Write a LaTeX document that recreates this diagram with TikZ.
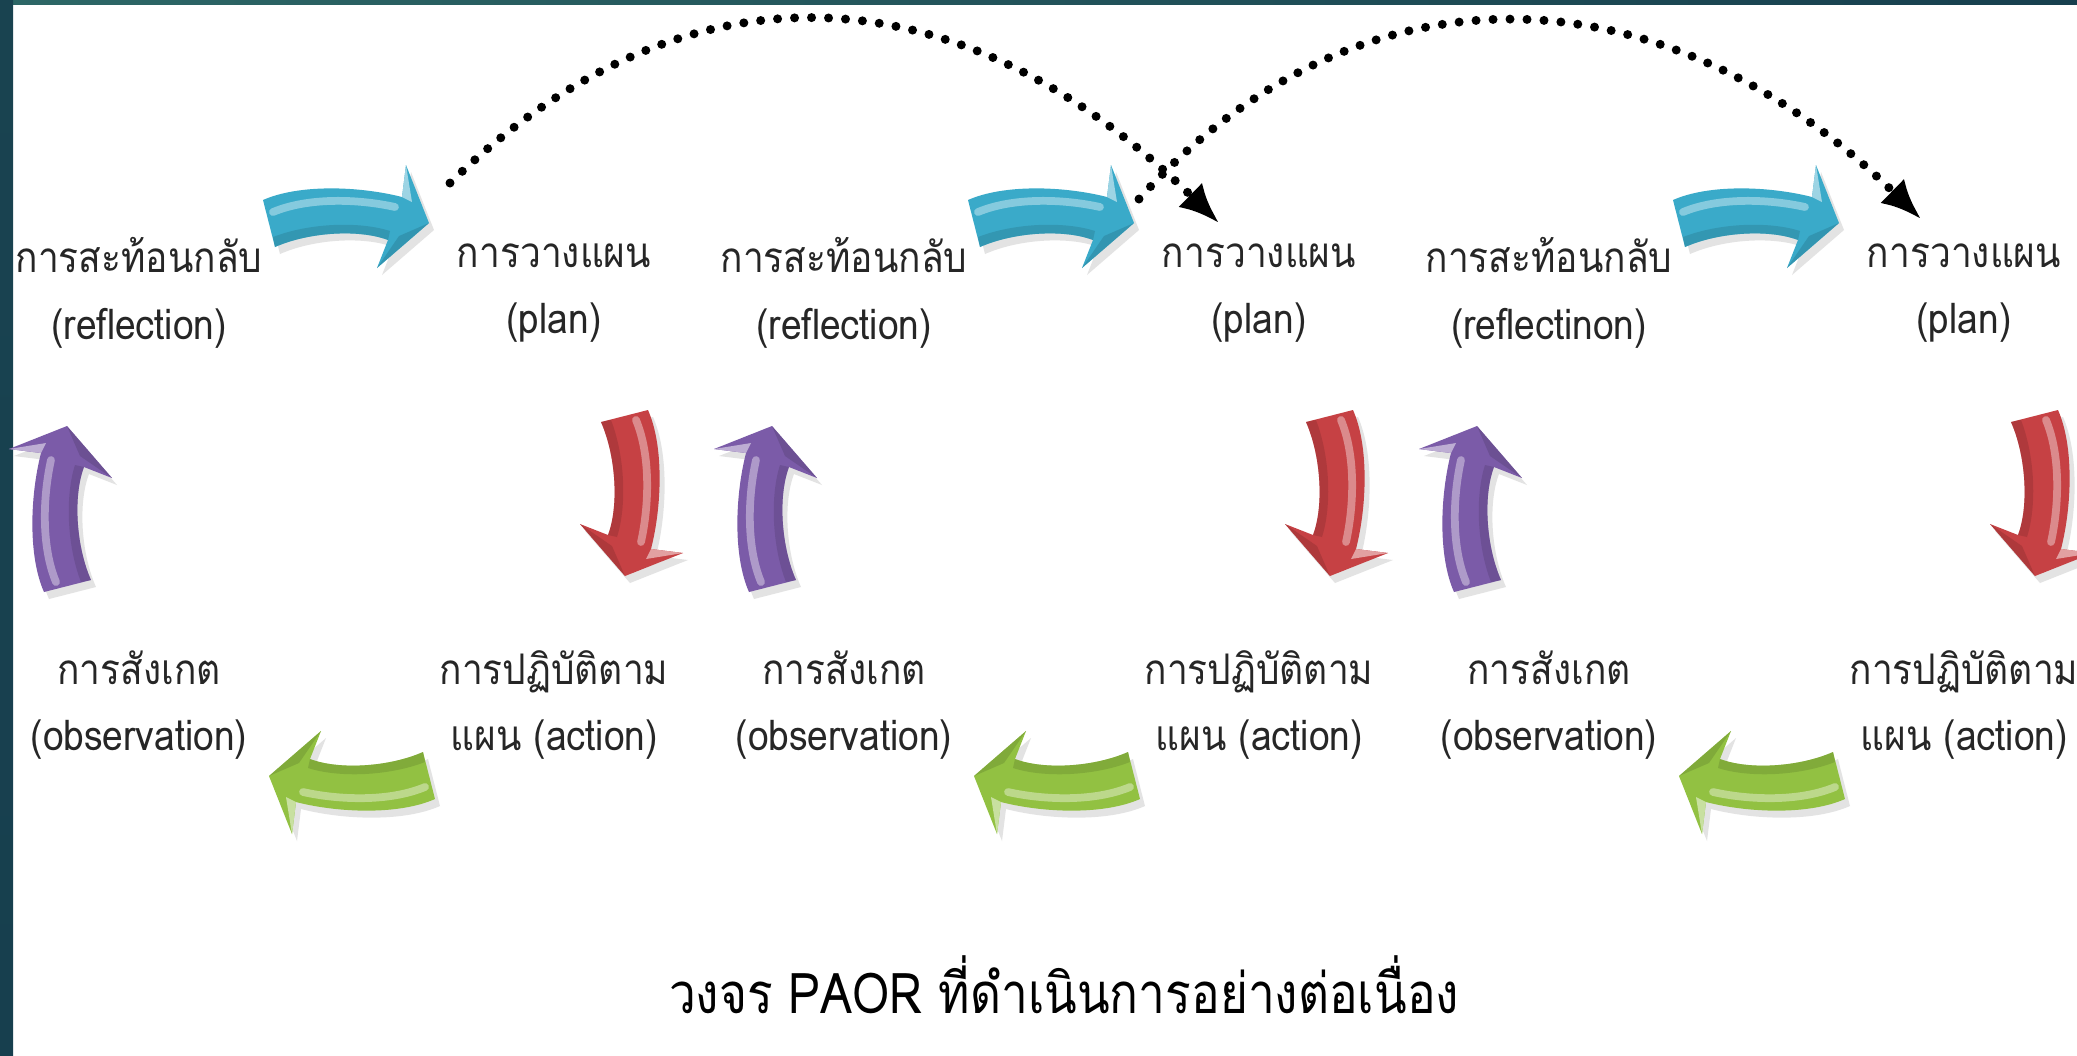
\documentclass[tikz,border=0pt]{standalone}
\usepackage{fontspec}
\usepackage{tikz}
\usetikzlibrary{arrows.meta,shadows}
\newfontfamily\thaifont[Script=Thai,FakeStretch=0.88]{Loma}
\newfontfamily\thaititle[Script=Thai,FakeStretch=0.85]{Loma}

\definecolor{framedark}{HTML}{173F4E}
\definecolor{framelight}{HTML}{2D6766}
\definecolor{arrblue}{HTML}{3AAAC9}
\definecolor{arrred}{HTML}{C64144}
\definecolor{arrgreen}{HTML}{92C142}
\definecolor{arrpurple}{HTML}{7B5BA8}
\definecolor{labelink}{HTML}{262626}

\tikzset{
	lbl/.style={align=center, text=labelink, font=\thaifont\fontsize{12}{19}\selectfont},
	ttl/.style={text=black, font=\thaititle\fontsize{16}{20}\selectfont},
	jump/.style={line width=0.09cm, line cap=round, dash pattern=on 0pt off 0.17cm,
		-{Latex[length=0.4cm,width=0.34cm]}},
	pics/fatarrow/.style={code={
		\fill[#1, drop shadow={opacity=0.22, shadow xshift=0.05cm, shadow yshift=-0.07cm}]
			(-0.06,0.24) .. controls (0.3,0.4) and (0.9,0.38) .. (1.33,0.27) -- (1.37,0.59)
			-- (1.60,0.01) -- (1.08,-0.44) -- (1.19,-0.16)
			.. controls (0.9,-0.05) and (0.4,-0.08) .. (0.06,-0.23) -- cycle;
		\fill[#1!75!black, opacity=0.45]
			(0.06,-0.23) .. controls (0.4,-0.08) and (0.9,-0.05) .. (1.19,-0.16)
			-- (1.21,-0.07) .. controls (0.9,0.03) and (0.4,0.01) .. (0.04,-0.13) -- cycle;
		\draw[#1!45!white, line width=2.2pt, line cap=round, opacity=0.7]
			(0.04,0.12) .. controls (0.4,0.27) and (0.9,0.25) .. (1.26,0.17);
		\fill[#1!50!white] (1.33,0.27) -- (1.37,0.59) -- (1.43,0.22) -- cycle;
		\fill[#1!80!black, opacity=0.6] (1.08,-0.44) -- (1.60,0.01) -- (1.30,-0.12) -- cycle;
	}}
}

\begin{document}
\begin{tikzpicture}
	\useasboundingbox (0,0) rectangle (20.77,-10.55);
	\clip (0,0) rectangle (20.77,-10.55);
	\fill[white] (0,0) rectangle (20.77,-10.55);
	\shade[left color=framelight, right color=framedark] (0,0) rectangle (20.77,-0.045);
	\shade[top color=framedark!90!framelight, bottom color=framedark] (0,0) rectangle (0.13,-10.55);

	\node[lbl] (refl1) at (1.39, -2.93)  {การสะท้อนกลับ\\(reflection)};
	\node[lbl] (plan1) at (5.54, -2.93)  {การวางแผน\\(plan)};
	\node[lbl] (act1)  at (5.54, -7.05)  {การปฏิบัติตาม\\แผน (action)};
	\node[lbl] (obs1)  at (1.39, -7.05)  {การสังเกต\\(observation)};

	\node[lbl] (refl2) at (8.44, -2.93)  {การสะท้อนกลับ\\(reflection)};
	\node[lbl] (plan2) at (12.59, -2.93) {การวางแผน\\(plan)};
	\node[lbl] (act2)  at (12.59, -7.05) {การปฏิบัติตาม\\แผน (action)};
	\node[lbl] (obs2)  at (8.44, -7.05)  {การสังเกต\\(observation)};

	\node[lbl] (refl3) at (15.49, -2.93) {การสะท้อนกลับ\\(reflectinon)};
	\node[lbl] (plan3) at (19.64, -2.93) {การวางแผน\\(plan)};
	\node[lbl] (act3)  at (19.64, -7.05) {การปฏิบัติตาม\\แผน (action)};
	\node[lbl] (obs3)  at (15.49, -7.05) {การสังเกต\\(observation)};

	\node[ttl] (title) at (10.64, -9.85) {วงจร PAOR ที่ดำเนินการอย่างต่อเนื่อง};

	\pic              at (2.69, -2.24)  {fatarrow=arrblue};
	\pic[rotate=-90]  at (6.24, -4.16)  {fatarrow=arrred};
	\pic[rotate=180]  at (4.29, -7.75)  {fatarrow=arrgreen};
	\pic[rotate=90]   at (0.68, -5.86)  {fatarrow=arrpurple};

	\pic              at (9.74, -2.24)  {fatarrow=arrblue};
	\pic[rotate=-90]  at (13.29, -4.16) {fatarrow=arrred};
	\pic[rotate=180]  at (11.34, -7.75) {fatarrow=arrgreen};
	\pic[rotate=90]   at (7.73, -5.86)  {fatarrow=arrpurple};

	\pic              at (16.79, -2.24) {fatarrow=arrblue};
	\pic[rotate=-90]  at (20.34, -4.16) {fatarrow=arrred};
	\pic[rotate=180]  at (18.39, -7.75) {fatarrow=arrgreen};
	\pic[rotate=90]   at (14.78, -5.86) {fatarrow=arrpurple};

	\coordinate (leap1) at (4.50, -1.83);
	\coordinate (land1) at (12.19, -2.23);
	\coordinate (leap2) at (11.39, -1.99);
	\coordinate (land2) at (19.21, -2.19);

	\draw[jump] (leap1) .. controls (6.79, 0.40) and (9.50, 0.40) .. (land1);
	\draw[jump] (leap2) .. controls (13.54, 0.40) and (16.56, 0.40) .. (land2);
\end{tikzpicture}
\end{document}
